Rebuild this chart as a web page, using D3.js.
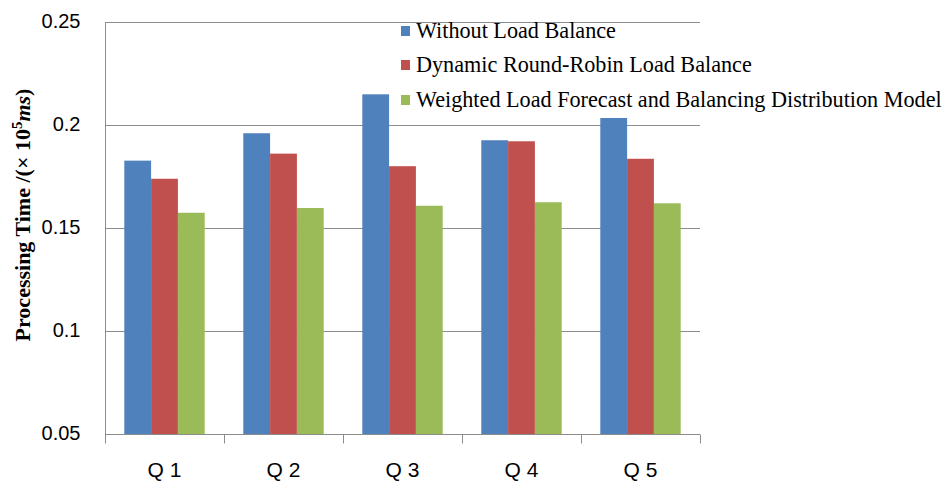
<!DOCTYPE html>
<html>
<head>
<meta charset="utf-8">
<script src="https://cdn.jsdelivr.net/npm/d3@7"></script>
<style>
  html, body { margin: 0; padding: 0; background: #fff; }
  svg { display: block; }
</style>
</head>
<body>
<svg id="chart" width="946" height="482"></svg>
<script>
// Query categories and processing times (×10^5 ms) for each strategy
const categories = ["Q 1", "Q 2", "Q 3", "Q 4", "Q 5"];
const seriesNames = [
  "Without Load Balance",
  "Dynamic Round-Robin Load Balance",
  "Weighted Load Forecast and Balancing Distribution Model"
];
const withoutBalance = [0.1827, 0.1960, 0.2149, 0.1926, 0.2034];
const roundRobin     = [0.1739, 0.1861, 0.1800, 0.1921, 0.1836];
const weightedModel  = [0.1574, 0.1597, 0.1608, 0.1625, 0.1620];
const yTicks = [0.05, 0.1, 0.15, 0.2, 0.25];
const colors = ["#4F81BD", "#C0504D", "#9BBB59"];

const seriesValues = [withoutBalance, roundRobin, weightedModel];

const svg = d3.select("#chart");
const plot = { left: 105, right: 700, top: 22, bottom: 434 };

const x0 = d3.scaleBand().domain(categories).range([plot.left, plot.right]).padding(0);
const x1 = d3.scaleBand().domain(d3.range(seriesNames.length))
  .range([0, x0.bandwidth()]).paddingInner(0).paddingOuter(0.72);
const y = d3.scaleLinear().domain([0.05, 0.25]).range([plot.bottom, plot.top]);

const gridColor = "#8c8c8c";

// Horizontal gridlines
svg.append("g")
  .selectAll("line")
  .data(yTicks)
  .join("line")
  .attr("x1", plot.left).attr("x2", plot.right)
  .attr("y1", d => Math.round(y(d)) + 0.5).attr("y2", d => Math.round(y(d)) + 0.5)
  .attr("stroke", gridColor).attr("stroke-width", 1);

// Bars
const groups = svg.append("g")
  .selectAll("g")
  .data(categories)
  .join("g")
  .attr("transform", d => `translate(${x0(d)},0)`);

groups.selectAll("rect")
  .data((c, i) => seriesValues.map((vals, s) => ({ s, v: vals[i] })))
  .join("rect")
  .attr("x", d => x1(d.s))
  .attr("width", x1.bandwidth())
  .attr("y", d => y(d.v))
  .attr("height", d => y(0.05) - y(d.v))
  .attr("fill", d => colors[d.s]);

// Y axis (line only, labels on the left)
const yAxis = d3.axisLeft(y).tickValues(yTicks).tickSize(0).tickPadding(25)
  .tickFormat(d3.format("~g"));
const gy = svg.append("g")
  .attr("transform", `translate(${plot.left + 0.5},0)`)
  .call(yAxis);
gy.select(".domain").remove();
gy.selectAll("text")
  .attr("font-family", "'Liberation Sans', Arial, sans-serif")
  .attr("font-size", 20)
  .attr("fill", "#000")
  .attr("dy", "0.25em");
svg.append("line")
  .attr("x1", plot.left + 0.5).attr("x2", plot.left + 0.5)
  .attr("y1", plot.top).attr("y2", plot.bottom + 9)
  .attr("stroke", gridColor);

// X axis with tick marks between categories
const gx = svg.append("g")
  .attr("transform", `translate(0,${Math.round(y(0.05)) + 0.5})`);
gx.append("line")
  .attr("x1", plot.left).attr("x2", plot.right)
  .attr("stroke", gridColor);
const boundaries = categories.map(c => x0(c)).concat([x0(categories[categories.length - 1]) + x0.bandwidth()]);
gx.selectAll("line.tick")
  .data(boundaries)
  .join("line")
  .attr("class", "tick")
  .attr("x1", d => Math.round(d) + 0.5).attr("x2", d => Math.round(d) + 0.5)
  .attr("y1", 0).attr("y2", 9)
  .attr("stroke", gridColor);
gx.selectAll("text")
  .data(categories)
  .join("text")
  .attr("x", d => x0(d) + x0.bandwidth() / 2)
  .attr("y", 42)
  .attr("text-anchor", "middle")
  .attr("font-family", "'Liberation Sans', Arial, sans-serif")
  .attr("font-size", 21)
  .attr("fill", "#000")
  .text(d => d);

// Y axis title
const title = svg.append("text")
  .attr("transform", "translate(30,215) rotate(-90)")
  .attr("text-anchor", "middle")
  .attr("font-family", "'Liberation Serif', 'Times New Roman', serif")
  .attr("font-weight", "bold")
  .attr("font-size", 22)
  .attr("fill", "#000");
title.append("tspan").text("Processing Time /(× 10");
title.append("tspan").attr("font-size", 15).attr("dy", -8).text("5");
title.append("tspan").attr("font-style", "italic").attr("dy", 8).text("ms");
title.append("tspan").text(")");

// Legend
const legend = svg.append("g").attr("transform", "translate(401,0)");
const rowY = [31, 65, 100];
const items = legend.selectAll("g")
  .data(seriesNames)
  .join("g")
  .attr("transform", (d, i) => `translate(0,${rowY[i]})`);
items.append("rect")
  .attr("x", 0).attr("y", -5)
  .attr("width", 9).attr("height", 10)
  .attr("fill", (d, i) => colors[i]);
items.append("text")
  .attr("x", 15).attr("y", 7)
  .attr("font-family", "'Liberation Serif', 'Times New Roman', serif")
  .attr("font-size", 22.2)
  .attr("fill", "#000")
  .text(d => d);
</script>
</body>
</html>
